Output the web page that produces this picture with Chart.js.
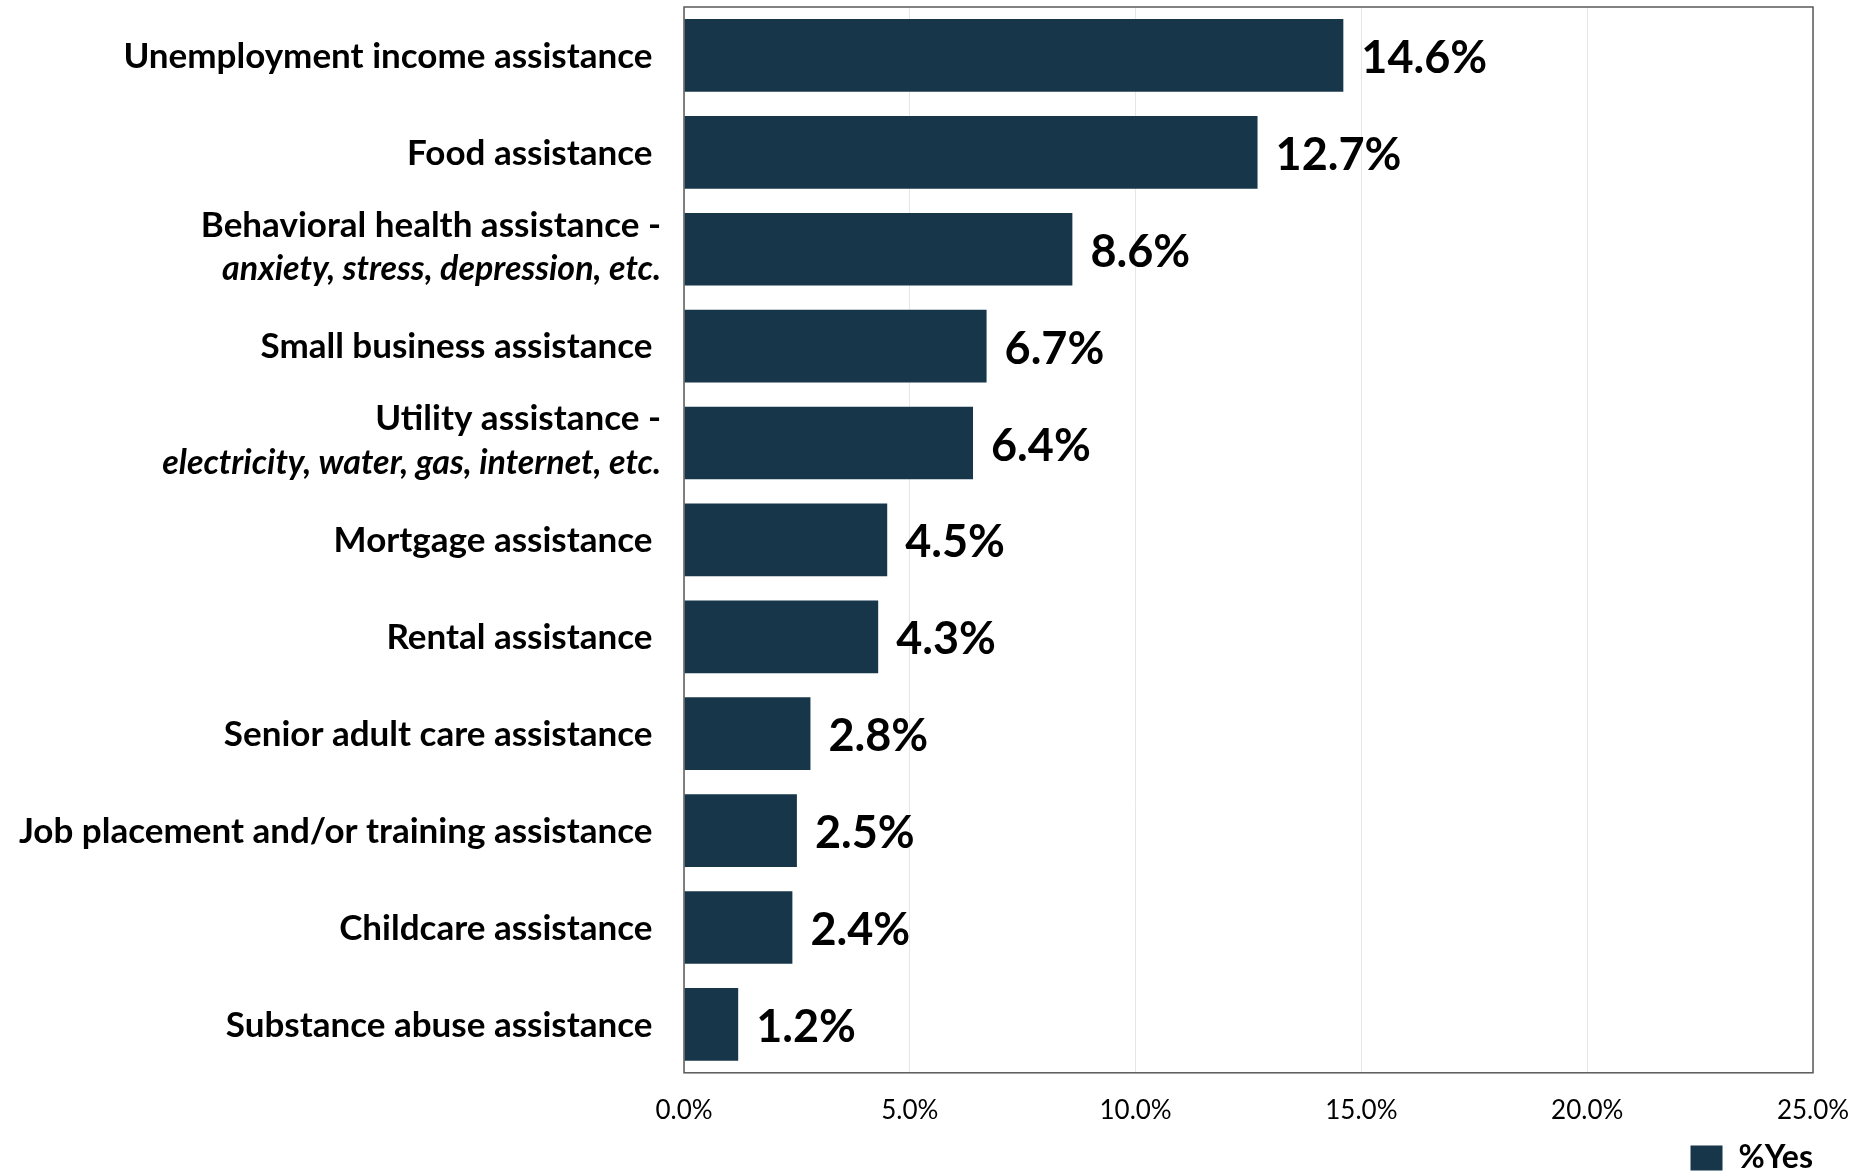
<!DOCTYPE html>
<html>
<head>
<meta charset="utf-8">
<script src="https://cdn.jsdelivr.net/npm/chart.js@4/dist/chart.umd.min.js"></script>
<style>
  html, body { margin: 0; padding: 0; background: #ffffff; }
  #wrap { width: 1872px; height: 1173px; position: relative; }
</style>
</head>
<body>
<div id="wrap"><canvas id="c" width="1872" height="1173"></canvas></div>
<script>
// ---- data ----
const categories = [
  "Unemployment income assistance",
  "Food assistance",
  "Behavioral health assistance -",
  "Small business assistance",
  "Utility assistance -",
  "Mortgage assistance",
  "Rental assistance",
  "Senior adult care assistance",
  "Job placement and/or training assistance",
  "Childcare assistance",
  "Substance abuse assistance"
];
const subLabels = [
  "", "", "anxiety, stress, depression, etc.", "", "electricity, water, gas, internet, etc.",
  "", "", "", "", "", ""
];
const yesValues = [14.6, 12.7, 8.6, 6.7, 6.4, 4.5, 4.3, 2.8, 2.5, 2.4, 1.2];
const xTicks = [0, 5, 10, 15, 20, 25];
const seriesName = "%Yes";

const BAR = "#17364a";
const FONT = "Lato, 'Noto Sans', sans-serif";

const labelPlugin = {
  id: 'labels',
  afterLayout(chart) {
    if (chart.legend) {
      chart.legend.top -= 6;
      chart.legend.bottom -= 6;
    }
  },
  afterDraw(chart) {
    const ctx = chart.ctx;
    const area = chart.chartArea;
    const ys = chart.scales.y;
    ctx.save();
    // plot border
    ctx.strokeStyle = "#595959";
    ctx.lineWidth = 1.5;
    ctx.strokeRect(area.left, area.top, area.right - area.left, area.bottom - area.top);
    // category labels
    ctx.fillStyle = "#000";
    ctx.textAlign = "right";
    ctx.textBaseline = "middle";
    const rx = area.left - 23;
    categories.forEach((c, i) => {
      const y = ys.getPixelForValue(i);
      if (subLabels[i]) {
        ctx.font = "bold 35px " + FONT;
        ctx.fillText(c, rx, y - 24);
        ctx.font = "italic bold 34px " + FONT;
        ctx.fillText(subLabels[i], rx, y + 20);
      } else {
        ctx.font = "bold 35px " + FONT;
        ctx.fillText(c + " ", rx, y + 1);
      }
    });
    // value labels
    ctx.textAlign = "left";
    ctx.font = "bold 45px " + FONT;
    const meta = chart.getDatasetMeta(0);
    meta.data.forEach((bar, i) => {
      ctx.fillText(yesValues[i].toFixed(1) + "%", bar.x + 18, bar.y + 3);
    });
    ctx.restore();
  }
};

new Chart(document.getElementById('c'), {
  type: 'bar',
  data: {
    labels: categories,
    datasets: [{
      label: seriesName,
      data: yesValues,
      backgroundColor: BAR,
      borderWidth: 0,
      barPercentage: 0.75,
      categoryPercentage: 1.0
    }]
  },
  options: {
    indexAxis: 'y',
    responsive: false,
    animation: false,
    layout: { padding: { left: 684, top: 7, right: 59, bottom: -17 } },
    scales: {
      x: {
        min: 0, max: 25,
        afterBuildTicks: (axis) => { axis.ticks = xTicks.map(v => ({ value: v })); },
        grid: { color: "#e6e6e6", lineWidth: 1, drawTicks: false },
        border: { display: false },
        ticks: {
          padding: 22,
          color: "#000",
          font: { family: FONT, size: 26 },
          callback: (v) => Number(v).toFixed(1) + "%"
        }
      },
      y: {
        grid: { display: false, drawTicks: false },
        border: { display: false },
        ticks: { display: false }
      }
    },
    plugins: {
      legend: {
        position: 'bottom',
        align: 'end',
        labels: {
          boxWidth: 32,
          boxHeight: 25,
          padding: 0,
          color: "#000",
          font: { family: FONT, size: 32, weight: 'bold' }
        }
      },
      tooltip: { enabled: false }
    }
  },
  plugins: [labelPlugin]
});
</script>
</body>
</html>
